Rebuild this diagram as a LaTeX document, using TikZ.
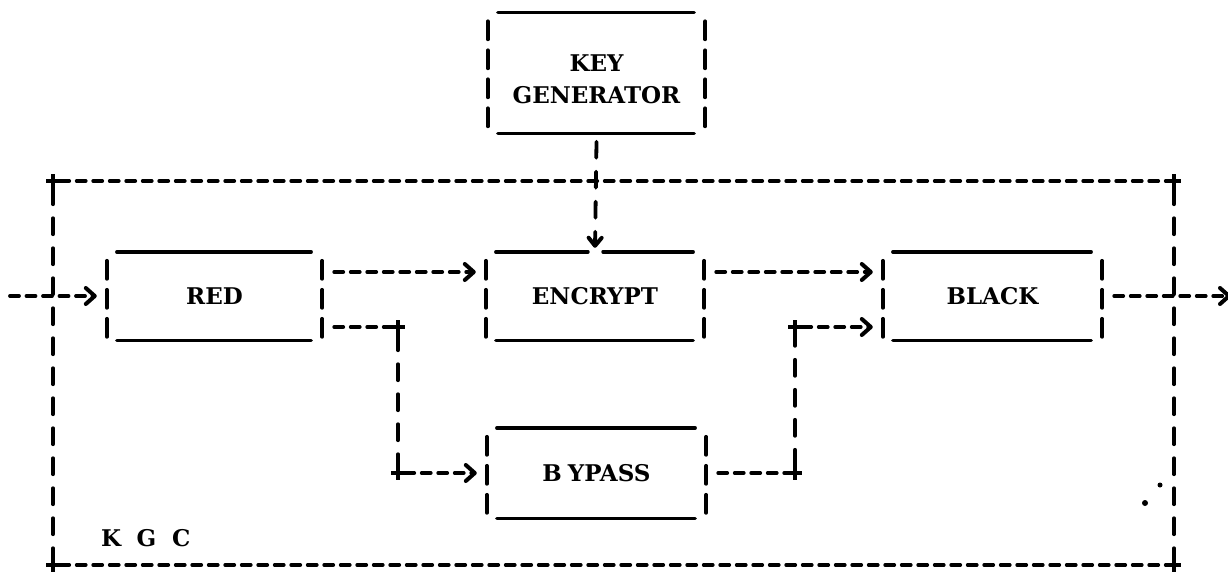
\documentclass[tikz,border=0pt]{standalone}
\usepackage{fontspec}
\usetikzlibrary{arrows.meta}
% heavy slab lettering
\newfontfamily\typefont{DejaVu Serif}
\newcommand{\typeface}{\typefont\bfseries\fontsize{23}{32}\selectfont}
\begin{document}
\begin{tikzpicture}[x=1pt,y=-1pt,
  ink/.style={line width=3.8pt, line cap=round},
  boxedge/.style={line width=3.4pt, line cap=round},
  hdash/.style={ink, dash pattern=on 9pt off 7.5pt},
  vdash/.style={ink, dash pattern=on 16pt off 14pt},
  sidedash/.style={ink, dash pattern=on 18pt off 11pt},
  tip/.style={-{Straight Barb[length=9pt,width=16pt,line width=4pt,round]}},
  unit/.style={inner sep=0pt, font=\typeface, align=center},
  label/.style={inner sep=0pt, font=\typeface},
  junct/.style={inner sep=0pt, minimum size=14pt,
    path picture={\draw[line width=4pt]
      (path picture bounding box.north) -- (path picture bounding box.south)
      (path picture bounding box.west) -- (path picture bounding box.east);}},
]
\useasboundingbox (0,0) rectangle (1228,571);

% functional units
\node[minimum width=217pt, minimum height=121pt] (kg) at (596.5,73) {};
\node[unit] (kgt) at (596.5,79) {KEY\\GENERATOR};
\node[unit, minimum width=215pt, minimum height=88pt] (red) at (214.5,296) {RED};
\node[unit, minimum width=218pt, minimum height=88pt] (enc) at (595,296) {ENCRYPT};
\node[unit, minimum width=219pt, minimum height=88pt] (black) at (992.5,296) {BLACK};
\node[unit, minimum width=219pt, minimum height=90pt] (bypass) at (596.5,473) {B\hspace{6pt}YPASS};

% box outlines: solid top and bottom, broken sides
\foreach \b in {kg,red,black,bypass}{
  \draw[boxedge] ([xshift=10pt]\b.north west) -- ([xshift=-11pt]\b.north east);
}
% the encryptor's top edge is interrupted where the key arrives
\draw[boxedge] ([xshift=10pt]enc.north west) -- ([xshift=-7pt]enc.north);
\draw[boxedge] ([xshift=8pt]enc.north) -- ([xshift=-11pt]enc.north east);
\foreach \b in {kg,red,enc,black,bypass}{
  \draw[boxedge] ([xshift=10pt]\b.south west) -- ([xshift=-11pt]\b.south east);
  \draw[sidedash] ([yshift=-9pt]\b.north west) -- ([yshift=1pt]\b.south west);
  \draw[sidedash] ([yshift=-9pt]\b.north east) -- ([yshift=1pt]\b.south east);
}

% enclosure corners and routing junctions
\node[junct] (c1) at (53,181) {};
\node[junct] (c2) at (1174,181) {};
\node[junct] (c3) at (1174,565) {};
\node[junct] (c4) at (53,565) {};
\node[junct] (j1) at (398,327) {};
\node[junct] (j2) at (398,473) {};
\node[junct] (j3) at (795,473) {};
\node[junct] (j4) at (795,327) {};

% enclosure
\draw[hdash] (c1) -- (c2);
\draw[hdash] (c4) -- (c3);
\draw[vdash] (c1) -- (c4);
\draw[vdash] (c2) -- (c3);
\node[label, anchor=west] (kgc) at (101,538)
  {\makebox[35.5pt][l]{K}\makebox[35.5pt][l]{G}C};

% key feed into the encryptor
\draw[vdash, -{Straight Barb[length=8pt,width=13pt,line width=4pt,round]}]
  ([yshift=-8pt]kg.south) -- ([yshift=4pt]enc.north);

% data paths
\coordinate (in) at (10,296);
\coordinate (out) at (1231,296);
\draw[hdash, tip] (in) -- ([xshift=-10pt]red.west);
\draw[hdash, tip] ([xshift=12pt,yshift=24pt]red.east) -- ([xshift=-10pt,yshift=24pt]enc.west);
\draw[hdash, tip] ([xshift=12pt,yshift=24pt]enc.east) -- ([xshift=-10pt,yshift=24pt]black.west);
\draw[hdash, tip] ([xshift=12pt]black.east) -- (out);

% bypass route
\draw[hdash] ([xshift=12pt,yshift=-31pt]red.east) -- (j1);
\draw[vdash] (j1) -- (j2);
\draw[hdash, tip] (j2) -- ([xshift=-10pt]bypass.west);
\draw[hdash] ([xshift=12pt]bypass.east) -- (j3);
\draw[vdash] (j3) -- (j4);
\draw[hdash, tip] (j4) -- ([xshift=-10pt,yshift=-31pt]black.west);

% stray ink marks
\fill (1160,485) circle (2.5pt);
\fill (1145,503) circle (3pt);
\end{tikzpicture}
\end{document}
